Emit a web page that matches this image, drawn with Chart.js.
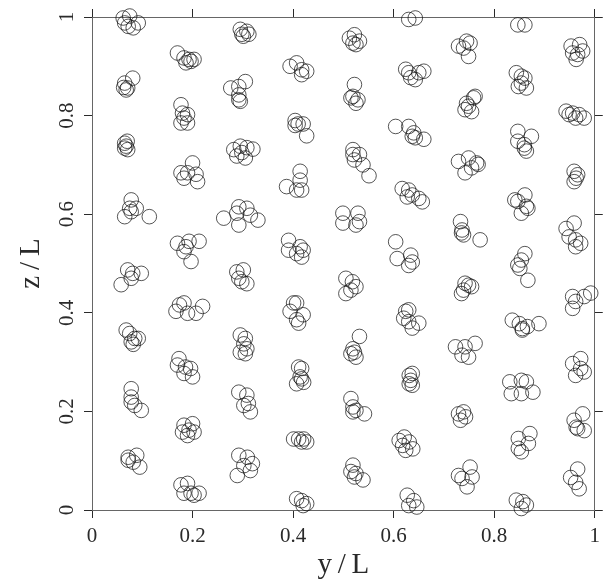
<!DOCTYPE html>
<html>
<head>
<meta charset="utf-8">
<script src="https://cdn.jsdelivr.net/npm/chart.js@4.4.1/dist/chart.umd.min.js"></script>
<style>
  body { margin: 0; background: #fff; }
  canvas { display: block; }
</style>
</head>
<body>
<canvas id="chart" width="606" height="585"></canvas>
<script>
// tick values and their printed labels
const xTicks = [0, 0.2, 0.4, 0.6, 0.8, 1];
const yTicks = [0, 0.2, 0.4, 0.6, 0.8, 1];
const xTickLabels = ['0', '0.2', '0.4', '0.6', '0.8', '1'];
const yTickLabels = ['0', '0.2', '0.4', '0.6', '0.8', '1'];

// particle positions [y/L, z/L], grouped by lattice column
const col07 = [
    [0.062, 0.998], [0.075, 1.002], [0.092, 0.988], [0.072, 0.981], [0.082, 0.978], [0.065, 0.988],
    [0.065, 0.866], [0.071, 0.856], [0.068, 0.852], [0.081, 0.876], [0.063, 0.857],
    [0.065, 0.744], [0.068, 0.738], [0.071, 0.731], [0.065, 0.734], [0.070, 0.748],
    [0.078, 0.629], [0.075, 0.612], [0.088, 0.612], [0.065, 0.595], [0.114, 0.595], [0.078, 0.605],
    [0.071, 0.487], [0.081, 0.480], [0.098, 0.480], [0.058, 0.457], [0.078, 0.470],
    [0.068, 0.365], [0.075, 0.358], [0.085, 0.348], [0.092, 0.348], [0.078, 0.341], [0.082, 0.336],
    [0.078, 0.246], [0.078, 0.229], [0.078, 0.219], [0.085, 0.212], [0.098, 0.202],
    [0.072, 0.107], [0.089, 0.111], [0.082, 0.097], [0.095, 0.087], [0.072, 0.101]
];
const col19 = [
    [0.170, 0.927], [0.183, 0.917], [0.193, 0.914], [0.203, 0.914], [0.187, 0.907], [0.197, 0.910],
    [0.177, 0.822], [0.180, 0.805], [0.190, 0.802], [0.177, 0.785], [0.190, 0.785], [0.183, 0.795],
    [0.200, 0.704], [0.177, 0.684], [0.190, 0.684], [0.207, 0.681], [0.210, 0.666], [0.183, 0.673],
    [0.170, 0.541], [0.193, 0.545], [0.213, 0.545], [0.183, 0.524], [0.197, 0.504], [0.187, 0.534],
    [0.174, 0.416], [0.183, 0.420], [0.190, 0.399], [0.207, 0.399], [0.220, 0.413], [0.167, 0.403],
    [0.173, 0.307], [0.170, 0.294], [0.186, 0.290], [0.196, 0.287], [0.183, 0.277], [0.200, 0.270],
    [0.183, 0.172], [0.200, 0.175], [0.193, 0.162], [0.180, 0.158], [0.203, 0.158], [0.190, 0.151],
    [0.177, 0.051], [0.190, 0.054], [0.183, 0.034], [0.197, 0.034], [0.213, 0.034], [0.203, 0.030]
];
const col30 = [
    [0.295, 0.975], [0.308, 0.971], [0.301, 0.961], [0.312, 0.965], [0.298, 0.965],
    [0.276, 0.856], [0.292, 0.859], [0.305, 0.869], [0.292, 0.842], [0.292, 0.832], [0.295, 0.829],
    [0.282, 0.731], [0.295, 0.738], [0.308, 0.735], [0.288, 0.718], [0.305, 0.714], [0.298, 0.725], [0.320, 0.732],
    [0.262, 0.592], [0.292, 0.615], [0.308, 0.612], [0.292, 0.578], [0.288, 0.602], [0.315, 0.598], [0.330, 0.588],
    [0.288, 0.483], [0.301, 0.487], [0.298, 0.463], [0.308, 0.459], [0.292, 0.470],
    [0.302, 0.337], [0.308, 0.327], [0.305, 0.317], [0.295, 0.320], [0.305, 0.348], [0.295, 0.355],
    [0.292, 0.239], [0.308, 0.233], [0.311, 0.216], [0.315, 0.199], [0.302, 0.212],
    [0.292, 0.111], [0.309, 0.107], [0.302, 0.090], [0.319, 0.094], [0.315, 0.080], [0.289, 0.070]
];
const col41 = [
    [0.394, 0.900], [0.407, 0.907], [0.417, 0.883], [0.427, 0.890], [0.417, 0.893],
    [0.404, 0.790], [0.410, 0.783], [0.420, 0.783], [0.427, 0.759], [0.404, 0.780],
    [0.414, 0.687], [0.414, 0.669], [0.387, 0.656], [0.417, 0.649], [0.407, 0.649],
    [0.391, 0.547], [0.391, 0.527], [0.414, 0.534], [0.420, 0.527], [0.417, 0.513], [0.407, 0.520],
    [0.401, 0.420], [0.407, 0.420], [0.394, 0.403], [0.420, 0.396], [0.407, 0.386], [0.411, 0.379],
    [0.411, 0.290], [0.417, 0.287], [0.414, 0.270], [0.421, 0.259], [0.407, 0.256], [0.417, 0.266],
    [0.401, 0.144], [0.411, 0.144], [0.421, 0.144], [0.427, 0.138], [0.417, 0.138],
    [0.407, 0.023], [0.417, 0.019], [0.420, 0.009], [0.427, 0.013]
];
const col52 = [
    [0.512, 0.957], [0.522, 0.964], [0.519, 0.947], [0.532, 0.951], [0.525, 0.944],
    [0.522, 0.863], [0.519, 0.839], [0.529, 0.832], [0.525, 0.825], [0.515, 0.836],
    [0.519, 0.731], [0.519, 0.721], [0.532, 0.721], [0.522, 0.710], [0.539, 0.700], [0.551, 0.678],
    [0.499, 0.602], [0.529, 0.602], [0.499, 0.582], [0.525, 0.578], [0.532, 0.585],
    [0.505, 0.470], [0.518, 0.463], [0.525, 0.453], [0.505, 0.439], [0.515, 0.446],
    [0.532, 0.352], [0.519, 0.327], [0.522, 0.320], [0.525, 0.310], [0.515, 0.317],
    [0.515, 0.226], [0.519, 0.209], [0.525, 0.202], [0.542, 0.195], [0.519, 0.199],
    [0.519, 0.091], [0.515, 0.078], [0.525, 0.074], [0.539, 0.061], [0.522, 0.067]
];
const col63 = [
    [0.630, 0.995], [0.643, 0.998],
    [0.624, 0.894], [0.643, 0.873], [0.634, 0.877], [0.650, 0.887], [0.630, 0.887], [0.660, 0.890],
    [0.604, 0.778], [0.630, 0.778], [0.640, 0.765], [0.643, 0.755], [0.637, 0.758], [0.660, 0.752],
    [0.617, 0.652], [0.630, 0.649], [0.637, 0.639], [0.650, 0.632], [0.657, 0.625], [0.627, 0.635],
    [0.604, 0.544], [0.607, 0.510], [0.634, 0.517], [0.637, 0.503], [0.630, 0.496],
    [0.624, 0.403], [0.630, 0.406], [0.620, 0.389], [0.630, 0.382], [0.650, 0.379], [0.637, 0.369],
    [0.631, 0.273], [0.637, 0.277], [0.634, 0.263], [0.631, 0.256], [0.637, 0.253],
    [0.611, 0.141], [0.621, 0.148], [0.631, 0.138], [0.638, 0.124], [0.624, 0.121], [0.618, 0.131],
    [0.627, 0.030], [0.630, 0.009], [0.646, 0.006], [0.640, 0.019]
];
const col74 = [
    [0.729, 0.941], [0.745, 0.951], [0.752, 0.947], [0.749, 0.920], [0.739, 0.937],
    [0.745, 0.825], [0.759, 0.836], [0.762, 0.839], [0.742, 0.812], [0.755, 0.808], [0.749, 0.819],
    [0.729, 0.707], [0.749, 0.714], [0.765, 0.704], [0.768, 0.701], [0.742, 0.684], [0.755, 0.694],
    [0.733, 0.585], [0.736, 0.568], [0.739, 0.558], [0.772, 0.548], [0.735, 0.562],
    [0.742, 0.460], [0.749, 0.456], [0.739, 0.446], [0.755, 0.453], [0.735, 0.439],
    [0.723, 0.331], [0.742, 0.331], [0.736, 0.314], [0.749, 0.310], [0.762, 0.338],
    [0.729, 0.195], [0.739, 0.199], [0.743, 0.189], [0.733, 0.182],
    [0.729, 0.070], [0.752, 0.087], [0.736, 0.064], [0.746, 0.047], [0.756, 0.067]
];
const col85 = [
    [0.847, 0.984], [0.861, 0.984],
    [0.844, 0.887], [0.854, 0.880], [0.861, 0.876], [0.848, 0.859], [0.864, 0.856], [0.854, 0.866],
    [0.847, 0.768], [0.874, 0.758], [0.847, 0.748], [0.860, 0.741], [0.864, 0.728], [0.860, 0.734],
    [0.841, 0.629], [0.847, 0.626], [0.864, 0.616], [0.867, 0.612], [0.854, 0.602], [0.861, 0.639],
    [0.861, 0.520], [0.854, 0.507], [0.847, 0.497], [0.851, 0.490], [0.867, 0.466],
    [0.836, 0.385], [0.850, 0.378], [0.856, 0.368], [0.866, 0.372], [0.889, 0.378], [0.856, 0.365],
    [0.831, 0.260], [0.854, 0.263], [0.864, 0.260], [0.834, 0.236], [0.854, 0.236], [0.877, 0.239],
    [0.871, 0.155], [0.848, 0.145], [0.848, 0.125], [0.854, 0.118], [0.868, 0.135],
    [0.844, 0.020], [0.857, 0.017], [0.854, 0.003], [0.864, 0.010]
];
const col96 = [
    [0.953, 0.941], [0.970, 0.944], [0.976, 0.931], [0.963, 0.914], [0.966, 0.924], [0.956, 0.927],
    [0.943, 0.809], [0.956, 0.805], [0.969, 0.802], [0.979, 0.795], [0.962, 0.795], [0.949, 0.802],
    [0.959, 0.687], [0.963, 0.673], [0.959, 0.666], [0.966, 0.680],
    [0.943, 0.571], [0.959, 0.582], [0.949, 0.554], [0.962, 0.548], [0.972, 0.541], [0.962, 0.534],
    [0.956, 0.433], [0.962, 0.423], [0.956, 0.409], [0.979, 0.433], [0.992, 0.440],
    [0.956, 0.297], [0.972, 0.307], [0.979, 0.280], [0.962, 0.273], [0.972, 0.287],
    [0.976, 0.195], [0.959, 0.182], [0.966, 0.165], [0.979, 0.161], [0.963, 0.168],
    [0.952, 0.066], [0.966, 0.083], [0.962, 0.056], [0.969, 0.043]
];

const columns = [col07, col19, col30, col41, col52, col63, col74, col85, col96];
const points = [];
columns.forEach(col => col.forEach(p => points.push({ x: p[0], y: p[1] })));

const fontFamily = '"Liberation Serif", "DejaVu Serif", serif';
const inkColor = '#2a2a2a';
const frameColor = '#666';

// ticks pointing outward on all four sides, no grid inside
function frameGrid() {
    return { drawOnChartArea: false, drawTicks: true, tickLength: 8, color: inkColor, lineWidth: 1 };
}
function setTicks(values) {
    return scale => { scale.ticks = values.map(v => ({ value: v })); };
}

const ctx = document.getElementById('chart').getContext('2d');
const chart = new Chart(ctx, {
    type: 'scatter',
    data: {
        datasets: [{
            data: points,
            pointStyle: 'circle',
            pointRadius: 7.3,
            pointHoverRadius: 7.3,
            pointBorderWidth: 0.9,
            pointBorderColor: 'rgba(20,20,20,0.8)',
            pointBackgroundColor: 'rgba(0,0,0,0)',
            clip: false
        }]
    },
    options: {
        responsive: false,
        animation: false,
        devicePixelRatio: 1,
        layout: { padding: 0 },
        plugins: { legend: { display: false }, tooltip: { enabled: false } },
        scales: {
            x: {
                type: 'linear', position: 'bottom', min: 0, max: 1,
                afterBuildTicks: setTicks(xTicks),
                afterFit: s => { s.height = 75; },
                grid: frameGrid(),
                border: { display: true, color: frameColor, width: 1 },
                ticks: {
                    color: inkColor, padding: 6, font: { family: fontFamily, size: 21 },
                    callback: (value, i) => xTickLabels[i]
                },
                title: {
                    display: true, text: 'y\u2009/\u2009L', color: inkColor,
                    font: { family: fontFamily, size: 29 }, padding: { top: 0, bottom: 2 }
                }
            },
            y: {
                type: 'linear', position: 'left', min: 0, max: 1,
                afterBuildTicks: setTicks(yTicks),
                afterFit: s => { s.width = 92; },
                grid: frameGrid(),
                border: { display: true, color: frameColor, width: 1 },
                ticks: {
                    color: inkColor, padding: 3, minRotation: 90, maxRotation: 90, crossAlign: 'center',
                    font: { family: fontFamily, size: 21 },
                    callback: (value, i) => yTickLabels[i]
                },
                title: {
                    display: true, text: 'z\u2009/\u2009L', color: inkColor,
                    font: { family: fontFamily, size: 29 }, padding: { top: 14, bottom: 0 }
                }
            },
            x2: {
                type: 'linear', axis: 'x', position: 'top', min: 0, max: 1,
                afterBuildTicks: setTicks(xTicks),
                afterFit: s => { s.height = 17; },
                grid: frameGrid(),
                border: { display: true, color: frameColor, width: 1 },
                ticks: { display: false }
            },
            y2: {
                type: 'linear', axis: 'y', position: 'right', min: 0, max: 1,
                afterBuildTicks: setTicks(yTicks),
                afterFit: s => { s.width = 7; },
                grid: frameGrid(),
                border: { display: true, color: frameColor, width: 1 },
                ticks: { display: false }
            }
        }
    }
});
</script>
</body>
</html>
